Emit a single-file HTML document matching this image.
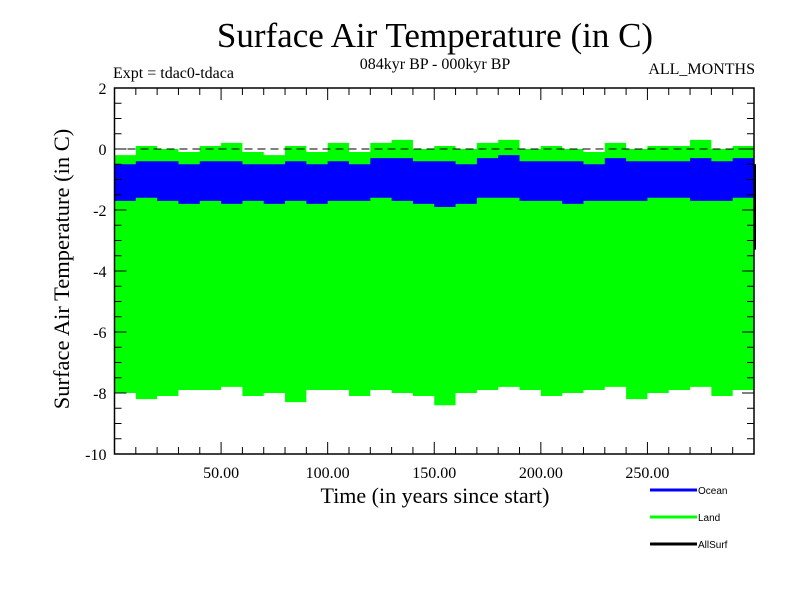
<!DOCTYPE html>
<html><head><meta charset="utf-8"><style>
body{margin:0;background:#fff}
svg text{font-family:"Liberation Serif",serif}
svg text.sans{font-family:"Liberation Sans",sans-serif}
</style></head><body>
<svg id="chart" width="800" height="600" xmlns="http://www.w3.org/2000/svg">
<text x="435" y="47" font-size="35" text-anchor="middle">Surface Air Temperature (in C)</text>
<text x="435" y="69" font-size="16" text-anchor="middle">084kyr BP - 000kyr BP</text>
<text x="113" y="78" font-size="16">Expt = tdac0-tdaca</text>
<text x="755" y="74" font-size="16" text-anchor="end">ALL_MONTHS</text>
<text x="435" y="503" font-size="22" text-anchor="middle">Time (in years since start)</text>
<text transform="translate(69,269) rotate(-90)" font-size="22.5" text-anchor="middle">Surface Air Temperature (in C)</text>
<g id="plot"></g>
<g id="axes"></g>
<g id="legend"></g>
</svg>
<script>
const years = [0,10,20,30,40,50,60,70,80,90,100,110,120,130,140,150,160,170,180,190,200,210,220,230,240,250,260,270,280,290,300];
const landTop = [-0.2,0.1,0.0,-0.1,0.1,0.2,-0.1,-0.2,0.1,-0.1,0.2,-0.1,0.2,0.3,0.0,0.1,0.0,0.2,0.3,0.0,0.1,0.0,-0.1,0.2,0.0,0.1,0.1,0.3,0.0,0.1,-0.2];
const oceanTop = [-0.5,-0.4,-0.4,-0.5,-0.4,-0.4,-0.5,-0.5,-0.4,-0.5,-0.4,-0.5,-0.3,-0.3,-0.4,-0.4,-0.5,-0.3,-0.2,-0.4,-0.4,-0.4,-0.5,-0.3,-0.4,-0.4,-0.4,-0.3,-0.4,-0.3,-0.5];
const oceanBottom = [-1.7,-1.6,-1.7,-1.8,-1.7,-1.8,-1.7,-1.8,-1.7,-1.8,-1.7,-1.7,-1.6,-1.7,-1.8,-1.9,-1.8,-1.6,-1.6,-1.7,-1.7,-1.8,-1.7,-1.7,-1.7,-1.6,-1.6,-1.7,-1.7,-1.6,-1.7];
const landBottom = [-8.0,-8.2,-8.1,-7.9,-7.9,-7.8,-8.1,-8.0,-8.3,-7.9,-7.9,-8.1,-7.9,-8.0,-8.1,-8.4,-8.0,-7.9,-7.8,-7.9,-8.1,-8.0,-7.9,-7.8,-8.2,-8.0,-7.9,-7.8,-8.1,-7.9,-7.8];
const xTicks = [50,100,150,200,250];
const xTickLabels = ["50.00","100.00","150.00","200.00","250.00"];
const yTicks = [2,0,-2,-4,-6,-8,-10];
const legendNames = ["Ocean","Land","AllSurf"];
const legendColors = ["#0000ff","#00ff00","#000000"];

const X0=114.5,X1=754,Y0=88,Y1=454, xmin=0,xmax=300,ymin=-10,ymax=2;
const sx=v=>X0+(v-xmin)/(xmax-xmin)*(X1-X0);
const sy=v=>Y1-(v-ymin)/(ymax-ymin)*(Y1-Y0);
const NS="http://www.w3.org/2000/svg";
function mk(tag,attrs,parent){const e=document.createElementNS(NS,tag);for(const k in attrs)e.setAttribute(k,attrs[k]);parent.appendChild(e);return e;}
const plot=document.getElementById('plot'),axes=document.getElementById('axes'),leg=document.getElementById('legend');
function band(top,bot,color,name){
  let up=[],dn=[];
  for(let i=0;i<years.length-1;i++){
    const a=sx(years[i]),b=sx(years[i+1]);
    up.push(a+','+sy(top[i]),b+','+sy(top[i]));
    dn.unshift(b+','+sy(bot[i]),a+','+sy(bot[i]));
  }
  const p=mk('polygon',{points:up.concat(dn).join(' '),fill:color},plot);
  
  
}
band(landTop,landBottom,'#00ff00','land-series');
band(oceanTop,oceanBottom,'#0000ff','ocean-series');
const z=mk('line',{x1:X0,x2:X1,y1:sy(0),y2:sy(0),stroke:'#000','stroke-dasharray':'8,5','stroke-width':1},axes);


const allS=mk('line',{x1:X1+1,x2:X1+1,y1:sy(-0.5),y2:sy(-3.3),stroke:'#000','stroke-width':2},axes);


const fr=mk('rect',{x:X0,y:Y0,width:X1-X0,height:Y1-Y0,fill:'none',stroke:'#000','stroke-width':1.5},axes);


for(let v=10;v<xmax;v+=10){
  const L=(v%50===0)?12:7;
  mk('line',{x1:sx(v),x2:sx(v),y1:Y1,y2:Y1-L,stroke:'#000'},axes);
  mk('line',{x1:sx(v),x2:sx(v),y1:Y0,y2:Y0+L,stroke:'#000'},axes);
}
for(let v=ymin+0.5;v<ymax;v+=0.5){
  const L=(Math.abs(v%2)<1e-6)?12:7;
  mk('line',{x1:X0,x2:X0+L,y1:sy(v),y2:sy(v),stroke:'#000'},axes);
  mk('line',{x1:X1,x2:X1-L,y1:sy(v),y2:sy(v),stroke:'#000'},axes);
}
xTicks.forEach((v,i)=>{
  const t=mk('text',{x:sx(v),y:Y1+24,'font-size':16,'text-anchor':'middle'},axes);
  t.textContent=xTickLabels[i];
  
  
});
yTicks.forEach(v=>{
  const t=mk('text',{x:X0-8,y:sy(v)+6,'font-size':16,'text-anchor':'end'},axes);
  t.textContent=String(v);
  
  
});
legendNames.forEach((n,i)=>{
  const y=490+i*27;
  const l=mk('line',{x1:650,x2:697,y1:y,y2:y,stroke:legendColors[i],'stroke-width':3},leg);
  
  
  const t=mk('text',{x:698,y:y+4,'font-size':10,'class':'sans'},leg);
  t.textContent=n;
  
  
});
</script>
</body></html>
